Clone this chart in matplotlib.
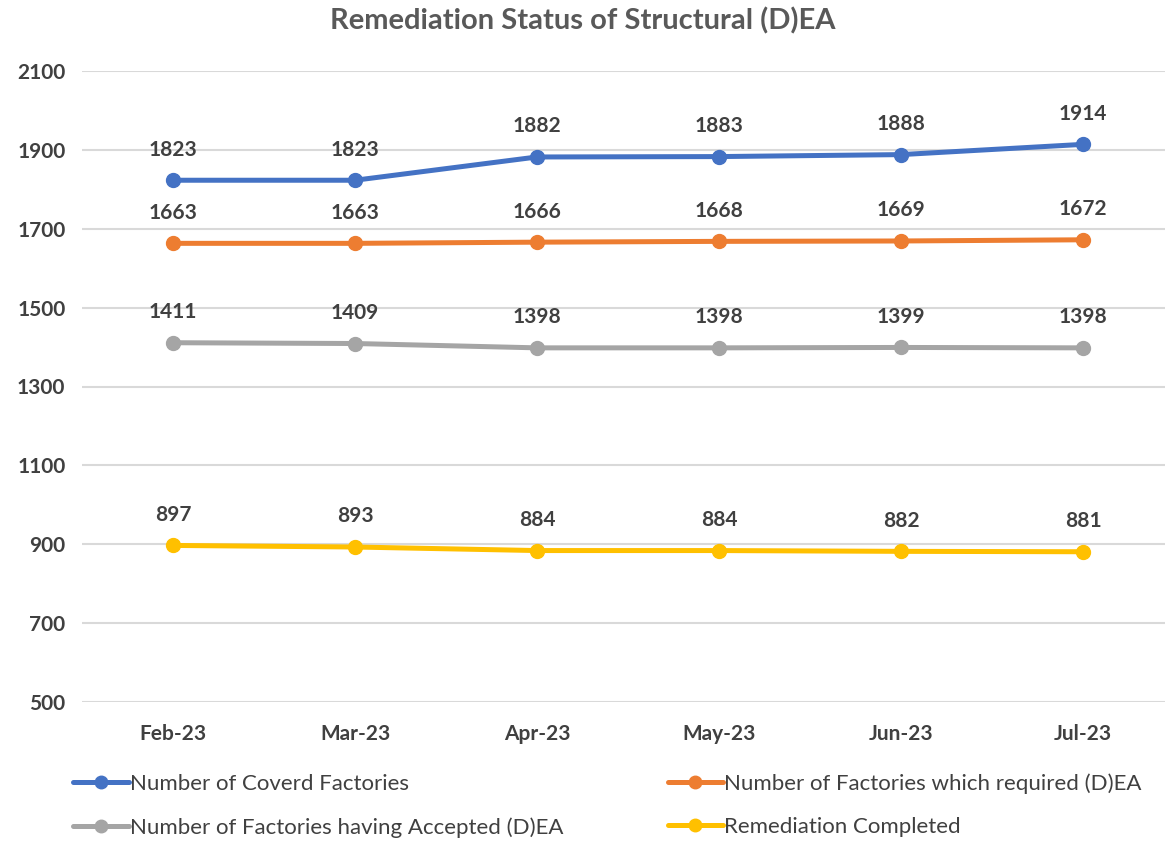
import matplotlib
matplotlib.use("Agg")
import matplotlib.pyplot as plt

months = ["Feb-23", "Mar-23", "Apr-23", "May-23", "Jun-23", "Jul-23"]
covered = [1823, 1823, 1882, 1883, 1888, 1914]
required = [1663, 1663, 1666, 1668, 1669, 1672]
accepted = [1411, 1409, 1398, 1398, 1399, 1398]
completed = [897, 893, 884, 884, 882, 881]

series = [
    ("Number of Coverd Factories", covered, "#4472C4"),
    ("Number of Factories which required (D)EA", required, "#ED7D31"),
    ("Number of Factories having Accepted (D)EA", accepted, "#A5A5A5"),
    ("Remediation Completed", completed, "#FFC000"),
]

plt.rcParams['font.family'] = ['Lato', 'DejaVu Sans']
txt = '#404040'

fig = plt.figure(figsize=(11.65, 8.42), dpi=100)
W, H = 1165, 842
ax = fig.add_axes([82 / W, 1 - 702 / H, 1092 / W, 631 / H])

x = list(range(len(months)))
handles = []
for name, vals, col in series:
    ln, = ax.plot(x, vals, color=col, lw=3.6, marker='o', ms=10, label=name,
                  solid_capstyle='round')
    handles.append(ln)
    for xi, v in zip(x, vals):
        ax.annotate(str(v), (xi, v), xytext=(0, 22), textcoords='offset points',
                    ha='center', va='center', fontsize=15, fontweight='bold', color=txt)

ax.set_xlim(-0.5, 5.5)
ax.set_ylim(500, 2100)
ax.set_yticks(range(500, 2101, 200))
ax.set_xticks(x)
ax.set_xticklabels(months)
ax.tick_params(axis='both', length=0, labelsize=15, colors=txt)
ax.tick_params(axis='x', pad=16)
ax.tick_params(axis='y', pad=12)
for lab in ax.get_xticklabels() + ax.get_yticklabels():
    lab.set_fontweight('bold')
ax.grid(axis='y', color='#D9D9D9', lw=1.5)
ax.set_axisbelow(True)
for s in ax.spines.values():
    s.set_visible(False)

fig.text(0.5, 1 - 21 / H, "Remediation Status of Structural (D)EA", ha='center', va='center',
         fontsize=21, fontweight='bold', color='#595959')

# legend filled row by row, like the original
order = [0, 2, 1, 3]
fig.legend([handles[i] for i in order], [series[i][0] for i in order],
           loc='upper left', bbox_to_anchor=(53 / W, 1 - 753 / H), ncol=2, frameon=False,
           fontsize=16, labelcolor=txt, handlelength=2.5, handletextpad=0.05,
           columnspacing=4.7, labelspacing=1.05, markerscale=0.9)

fig.savefig("out.png", dpi=100)
